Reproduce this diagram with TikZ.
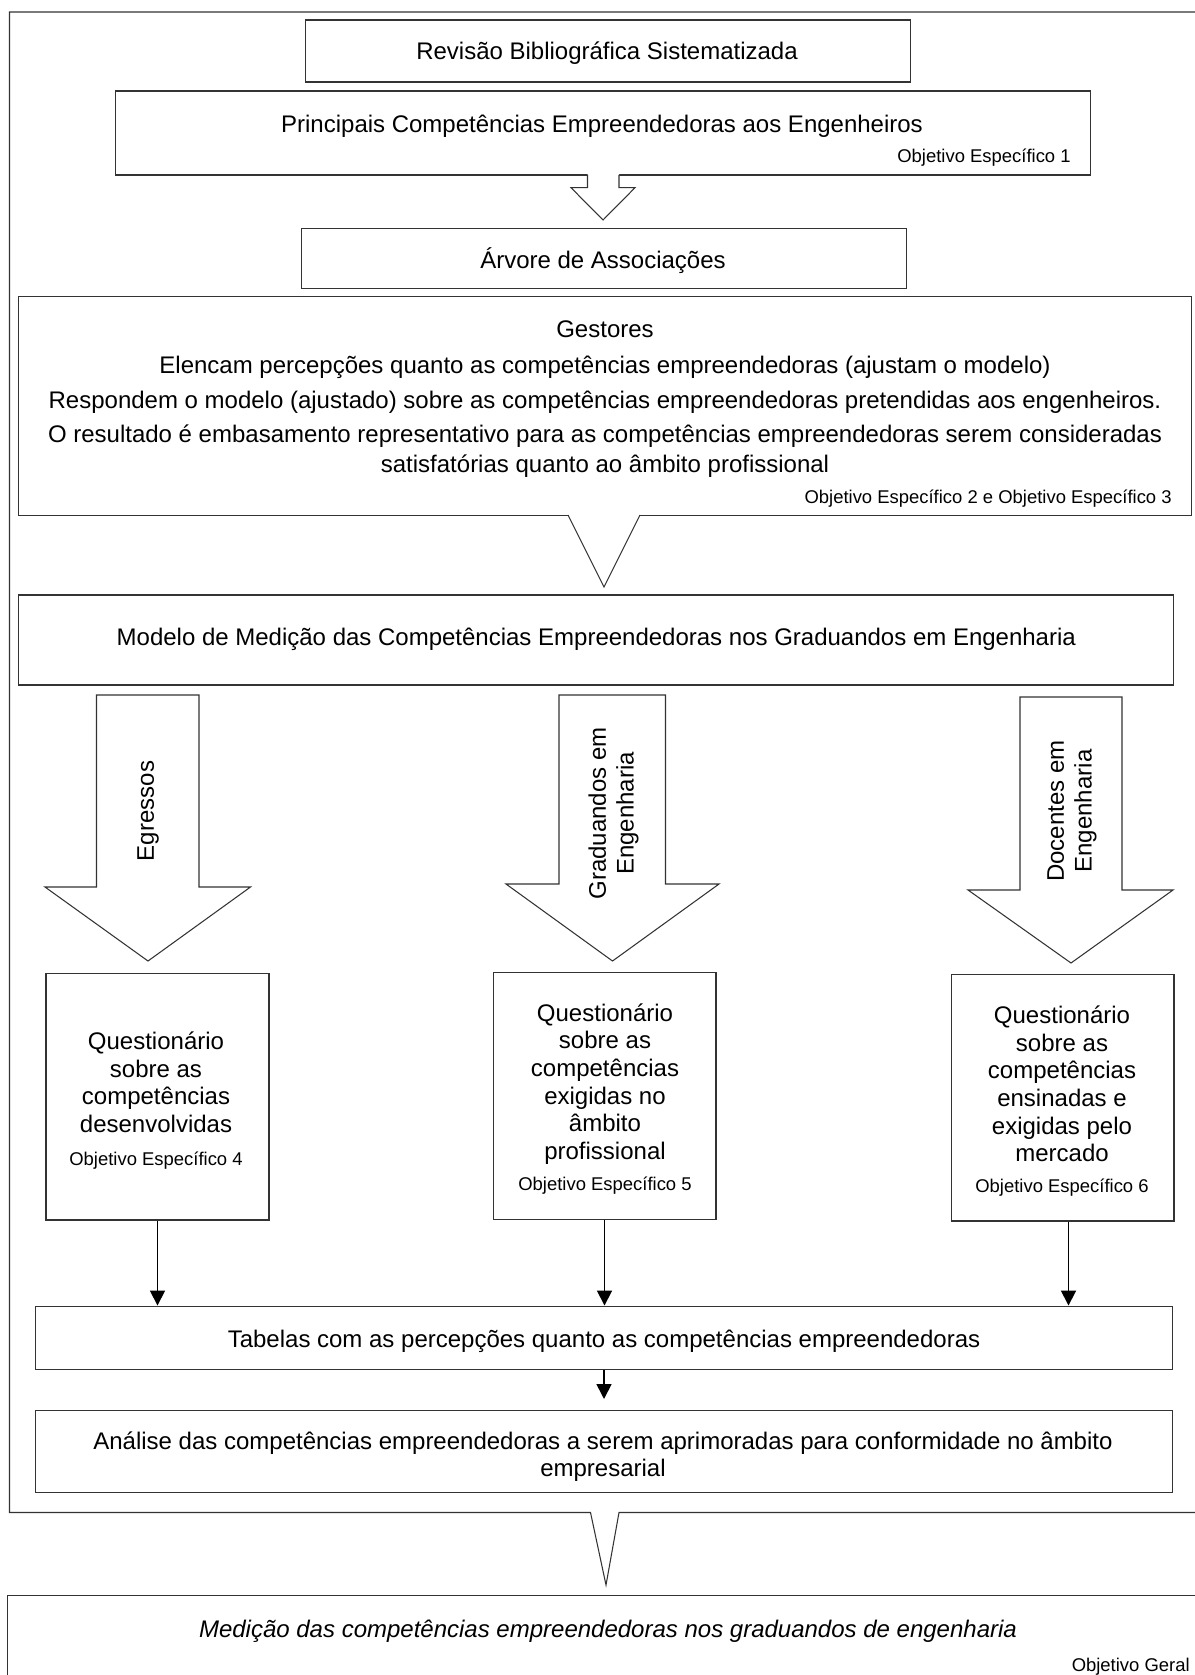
\documentclass[tikz,border=0pt]{standalone}
\usepackage{fontspec}
\setmainfont{Liberation Sans}
\usetikzlibrary{arrows.meta,calc}
\definecolor{boxline}{rgb}{0.2,0.2,0.2}
\newcommand{\bigsz}{\fontsize{13.66pt}{15.75pt}\selectfont}
\newcommand{\gessz}{\fontsize{13.66pt}{17.07pt}\selectfont}
\newcommand{\smallsz}{\fontsize{10.5pt}{12.6pt}\selectfont}
\tikzset{
  box/.style={draw=boxline, line width=0.6pt, fill=white, inner sep=0pt},
  txt/.style={font=\bigsz, inner sep=0pt, anchor=base},
  block/.style={font=\bigsz, inner sep=0pt, align=center, anchor=north},
  objtxt/.style={font=\smallsz, inner sep=0pt, anchor=base east},
  fatarrow/.style={draw=boxline, line width=0.6pt, fill=white},
  rim/.style={draw=boxline, line width=0.6pt},
  link/.style={-{Triangle[width=0.3cm,length=0.3cm]}, line width=1pt, black}
}

\begin{document}
\begin{tikzpicture}[x=0.02cm, y=-0.02cm]
\useasboundingbox (0,0) rectangle (1195,1675);
\clip (0,0) rectangle (1195,1675);
\fill[white] (0,0) rectangle (1195,1675);

% outer frame, opens into the general objective
\draw[rim] (1220,1512.5) -- (619,1512.5) -- (606,1585) -- (590.5,1512.5) -- (9.5,1512.5) -- (9.5,12) -- (1220,12);

% review and competences
\node[box, minimum width=12.12cm, minimum height=1.24cm] (rev) at (608,51) {};
\node[txt] (revt) at (607,59.3) {Revisão Bibliográfica Sistematizada};
\node[box, minimum width=19.52cm, minimum height=1.68cm] (pri) at (603,133) {};
\node[txt] (prit) at (602,133) {Principais Competências Empreendedoras aos Engenheiros};
\node[objtxt] (ob1) at (1071,163) {Objetivo Específico 1};
\fill[white] (587.5,173) -- (587.5,187.7) -- (571,187.7) -- (603,220) -- (635,187.7) -- (619,187.7) -- (619,173) -- cycle;
\draw[rim] (587.5,175) -- (587.5,187.7) -- (571,187.7) -- (603,220) -- (635,187.7) -- (619,187.7) -- (619,175);

\node[box, minimum width=12.1cm, minimum height=1.2cm] (arv) at (604,258.3) {};
\node[txt] (arvt) at (603,268.3) {Árvore de Associações};

% managers
\node[box, minimum width=23.48cm, minimum height=4.37cm] (ges) at (605,405.8) {};
\node[block, font=\gessz] (gest) at (605,320.8) {Gestores\\[0.12cm]
  Elencam percepções quanto as competências empreendedoras (ajustam o modelo)\\[0.1cm]
  Respondem o modelo (ajustado) sobre as competências empreendedoras pretendidas aos engenheiros.\\[0.08cm]
  O resultado é embasamento representativo para as competências empreendedoras serem consideradas\\
  satisfatórias quanto ao âmbito profissional};
\node[objtxt] (ob23) at (1172,503.3) {Objetivo Específico 2 e Objetivo Específico 3};
\fill[white] (568.5,513) -- (568.5,515) -- (604,587) -- (639.5,515) -- (639.5,513) -- cycle;
\draw[rim] (568,515) -- (604,587) -- (640,515);

% measurement model
\node[box, minimum width=23.12cm, minimum height=1.8cm] (mod) at (596,640) {};
\node[txt] (modt) at (596.3,645) {Modelo de Medição das Competências Empreendedoras nos Graduandos em Engenharia};

\draw[fatarrow] (96.5,695) -- (199,695) -- (199,887) -- (250.5,887) -- (148,961) -- (45,887) -- (96.5,887) -- cycle;
\node[txt, anchor=center, rotate=90] (egr) at (148,811) {Egressos};
\draw[fatarrow] (559,695) -- (665.5,695) -- (665.5,884) -- (719,884) -- (612.5,961) -- (506,884) -- (559,884) -- cycle;
\node[block, anchor=center, rotate=90] (gra) at (613.5,813.5) {Graduandos em\\Engenharia};
\draw[fatarrow] (1020,697) -- (1122,697) -- (1122,890) -- (1173,890) -- (1071,963) -- (968,890) -- (1020,890) -- cycle;
\node[block, anchor=center, rotate=90] (doc) at (1072,811) {Docentes em\\Engenharia};

% questionnaires
\node[box, minimum width=4.46cm, minimum height=4.94cm] (q1) at (157.5,1096.5) {};
\node[block] (q1t) at (156,1031.5) {Questionário\\sobre as\\competências\\desenvolvidas\\[0.1cm]{\smallsz Objetivo Específico 4}};
\node[box, minimum width=4.46cm, minimum height=4.94cm] (q2) at (604.5,1096) {};
\node[block] (q2t) at (605,1003) {Questionário\\sobre as\\competências\\exigidas no\\âmbito\\profissional\\[0.06cm]{\smallsz Objetivo Específico 5}};
\node[box, minimum width=4.46cm, minimum height=4.94cm] (q3) at (1062.5,1097.5) {};
\node[block] (q3t) at (1062,1005.5) {Questionário\\sobre as\\competências\\ensinadas e\\exigidas pelo\\mercado\\[0.05cm]{\smallsz Objetivo Específico 6}};

% tables and analysis
\node[box, minimum width=22.73cm, minimum height=1.27cm] (tab) at (604,1337.8) {};
\node[txt] (tabt) at (604,1347.2) {Tabelas com as percepções quanto as competências empreendedoras};
\draw[link] (q1.south) -- (q1.south |- tab.north);
\draw[link] (q2.south) -- (q2.south |- tab.north);
\draw[link] ($(q3.south)+(6,0)$) -- ($(q3.south |- tab.north)+(6,0)$);

\node[box, minimum width=22.73cm, minimum height=1.64cm] (ana) at (604,1451.5) {};
\node[block] (anat) at (603,1431.1) {Análise das competências empreendedoras a serem aprimoradas para conformidade no âmbito\\empresarial};
\draw[link, shorten >=0.22cm] (tab) -- (ana);

% general objective
\node[box, minimum width=24.2cm, minimum height=2.2cm] (ger) at (612.5,1650) {};
\node[txt, font=\bigsz\itshape] (gert) at (608,1637) {Medição das competências empreendedoras nos graduandos de engenharia};
\node[objtxt] (obg) at (1190,1671.7) {Objetivo Geral};
\end{tikzpicture}
\end{document}
